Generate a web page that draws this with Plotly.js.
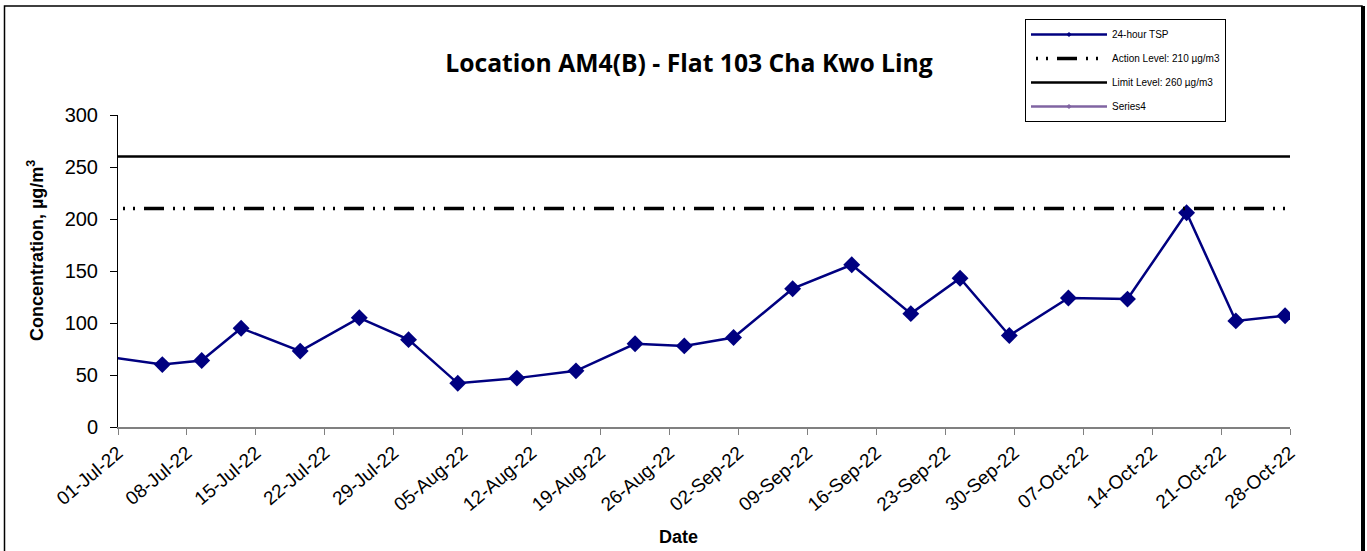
<!DOCTYPE html>
<html>
<head>
<meta charset="utf-8">
<script src="https://cdn.plot.ly/plotly-3.0.1.min.js"></script>
<style>
  html, body { margin: 0; padding: 0; background: #fff; }
  #chart { width: 1367px; height: 551px; }
</style>
</head>
<body>
<div id="chart"></div>
<script>
// ---- Data ----
const tspDates = [
  '2022-06-29 12:00', '2022-07-05 12:00', '2022-07-09 12:00', '2022-07-13 12:00',
  '2022-07-19 12:00', '2022-07-25 12:00', '2022-07-30 12:00', '2022-08-04 12:00',
  '2022-08-10 12:00', '2022-08-16 12:00', '2022-08-22 12:00', '2022-08-27 12:00',
  '2022-09-01 12:00', '2022-09-07 12:00', '2022-09-13 12:00', '2022-09-19 12:00',
  '2022-09-24 12:00', '2022-09-29 12:00', '2022-10-05 12:00', '2022-10-11 12:00',
  '2022-10-17 12:00', '2022-10-22 12:00', '2022-10-27 12:00'
];
const tspValues = [
  68, 60, 64, 95, 73, 105, 84, 42, 47, 54, 80, 78,
  86, 133, 156, 109, 143, 88, 124, 123, 206, 102, 107
];
const levelDates = ['2022-07-01', '2022-10-28'];
const actionLevel = [210, 210];
const limitLevel = [260, 260];
const series4Dates = [];
const series4Values = [];

const seriesNames = ['24-hour TSP', 'Action Level: 210 \u00b5g/m3', 'Limit Level: 260 \u00b5g/m3', 'Series4'];
const xRange = ['2022-07-01', '2022-10-28'];
const yRange = [0, 300];
const chartTitle = 'Location AM4(B) - Flat 103 Cha Kwo Ling';
const xTitle = 'Date';
const yTitle = 'Concentration, \u00b5g/m<sup>3</sup>';

const NAVY = '#000080';
const FONT = 'Arial, "Liberation Sans", sans-serif';

const traces = [
  {
    x: tspDates, y: tspValues, type: 'scatter', mode: 'lines+markers',
    name: seriesNames[0], showlegend: false,
    line: { color: NAVY, width: 2.5 },
    marker: { symbol: 'diamond', size: 13, color: NAVY }
  },
  // legend proxy with small marker, like the original legend
  {
    x: [null], y: [null], type: 'scatter', mode: 'lines+markers',
    name: seriesNames[0], legendgroup: 'a',
    line: { color: NAVY, width: 2.5 },
    marker: { symbol: 'diamond', size: 4, color: NAVY }
  },
  {
    x: levelDates, y: actionLevel, type: 'scatter', mode: 'lines',
    name: seriesNames[1], legendgroup: 'b',
    line: { color: '#000000', width: 3.5, dash: '0px,5px,2px,8px,2px,9px,20px,4px' }
  },
  {
    x: levelDates, y: limitLevel, type: 'scatter', mode: 'lines',
    name: seriesNames[2], legendgroup: 'c',
    line: { color: '#000000', width: 2.5 }
  },
  {
    x: series4Dates.length ? series4Dates : [null], y: series4Values.length ? series4Values : [null],
    type: 'scatter', mode: 'lines+markers',
    name: seriesNames[3], legendgroup: 'd',
    line: { color: '#8064A2', width: 2.5 },
    marker: { symbol: 'diamond', size: 4, color: '#8064A2' }
  }
];

const L = 118, R = 77, T = 115, B = 124;
const W = 1367, H = 551;
const pw = W - L - R, ph = H - T - B;
const px = v => (v - L) / pw;          // pixel x -> paper x
const py = v => (H - B - v) / ph;      // pixel y -> paper y

const layout = {
  width: W, height: H,
  margin: { l: L, r: R, t: T, b: B },
  paper_bgcolor: '#ffffff', plot_bgcolor: '#ffffff',
  font: { family: FONT, color: '#000000' },
  title: {
    text: chartTitle,
    font: { family: '"Open Sans", Lato, sans-serif', size: 24.7, weight: 'bold', color: '#000000' },
    xref: 'container', x: 689 / W, xanchor: 'center',
    yref: 'container', y: (H - 63) / H, yanchor: 'middle'
  },
  xaxis: {
    type: 'date', range: xRange,
    tickmode: 'linear', tick0: '2022-07-01', dtick: 7 * 86400000,
    tickformat: '%d-%b-%y', tickangle: -40,
    tickfont: { family: FONT, size: 19, color: '#000000' },
    ticks: 'outside', ticklen: 6, tickcolor: '#808080', tickwidth: 1,
    showline: true, linecolor: '#808080', linewidth: 1.5,
    showgrid: false, zeroline: false, fixedrange: true
  },
  yaxis: {
    range: yRange, tickmode: 'linear', tick0: 0, dtick: 50,
    tickfont: { family: FONT, size: 20, color: '#000000' },
    ticks: 'outside', ticklen: 7, tickcolor: '#000000', tickwidth: 1,
    ticklabelstandoff: 8,
    showline: true, linecolor: '#000000', linewidth: 1,
    showgrid: false, zeroline: false, fixedrange: true
  },
  showlegend: true,
  legend: {
    x: px(1025), y: py(19), xanchor: 'left', yanchor: 'top',
    bgcolor: '#ffffff', bordercolor: '#000000', borderwidth: 1,
    font: { family: FONT, size: 10, color: '#000000' },
    traceorder: 'grouped', tracegroupgap: 5, itemwidth: 76
  },
  annotations: [
    {
      text: yTitle, textangle: -90, showarrow: false,
      xref: 'paper', yref: 'paper', x: px(35), y: py(251),
      xanchor: 'center', yanchor: 'middle',
      font: { family: FONT, size: 18, weight: 'bold', color: '#000000' }
    },
    {
      text: xTitle, showarrow: false,
      xref: 'paper', yref: 'paper', x: px(678), y: py(537),
      xanchor: 'center', yanchor: 'middle',
      font: { family: FONT, size: 18, weight: 'bold', color: '#000000' }
    }
  ],
  shapes: [
    {
      type: 'rect', xref: 'paper', yref: 'paper',
      x0: px(4.5), x1: px(1362), y0: py(570), y1: py(6),
      line: { color: '#000000', width: 1.5 }, fillcolor: 'rgba(0,0,0,0)', layer: 'above'
    },
    {
      type: 'line', xref: 'paper', yref: 'paper',
      x0: px(1363), x1: px(1363), y0: py(570), y1: py(6),
      line: { color: '#000000', width: 4 }, layer: 'above'
    }
  ]
};

Plotly.newPlot('chart', traces, layout, { displayModeBar: false, staticPlot: true });
</script>
</body>
</html>
